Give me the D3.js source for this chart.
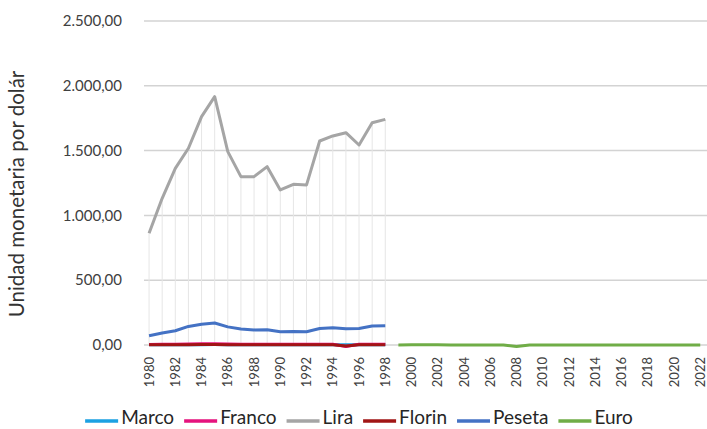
<!DOCTYPE html>
<html>
<head>
<meta charset="utf-8">
<script src="https://cdn.jsdelivr.net/npm/d3@7"></script>
<style>
  body { margin: 0; background: #fff; }
  text { font-family: Lato, "Open Sans", sans-serif; fill: #404040; }
</style>
</head>
<body>
<div id="chart"></div>
<script>
const years = d3.range(1980, 2023);
const yTicks = [0, 500, 1000, 1500, 2000, 2500];

// 1980 - 1998
const marco = [1.82, 2.26, 2.43, 2.55, 2.85, 2.94, 2.17, 1.80, 1.76, 1.88, 1.62, 1.66, 1.56, 1.65, 1.62, 1.43, 1.50, 1.73, 1.76];
const franco = [4.23, 5.43, 6.57, 7.62, 8.74, 8.99, 6.93, 6.01, 5.96, 6.38, 5.45, 5.64, 5.29, 5.66, 5.55, -12, 5.12, 5.84, 5.90];
const lira = [862, 1132, 1363, 1518, 1762, 1916, 1492, 1299, 1299, 1376, 1196, 1240, 1235, 1574, 1613, 1638, 1543, 1715, 1741];
const florin = [1.99, 2.50, 2.67, 2.85, 3.21, 3.32, 2.45, 2.03, 1.98, 2.12, 1.82, 1.87, 1.76, 1.86, 1.82, -8, 1.69, 1.95, 1.98];
const peseta = [71.7, 92.3, 110.0, 143.4, 160.8, 170.0, 140.0, 123.5, 116.5, 118.4, 101.9, 103.9, 102.4, 127.3, 134.0, 124.7, 126.7, 146.4, 149.4];
// 1999 - 2022
const euro = [0.94, 1.09, 1.12, 1.06, 0.89, 0.80, 0.80, 0.80, 0.73, -12, 0.72, 0.76, 0.72, 0.78, 0.75, 0.75, 0.90, 0.90, 0.89, 0.85, 0.89, 0.88, 0.85, 0.95];

const series = [
  { name: 'Marco', color: '#1ba1e2', start: 1980, values: marco },
  { name: 'Franco', color: '#e5127d', start: 1980, values: franco },
  { name: 'Lira', color: '#a5a5a5', start: 1980, values: lira },
  { name: 'Florin', color: '#a11515', start: 1980, values: florin },
  { name: 'Peseta', color: '#4472c4', start: 1980, values: peseta },
  { name: 'Euro', color: '#70ad47', start: 1999, values: euro }
];

const width = 707, height = 429;
const svg = d3.select('#chart').append('svg')
  .attr('width', width)
  .attr('height', height);

const x = d3.scaleBand()
  .domain(years)
  .range([142.5, 706.8]);

const y = d3.scaleLinear()
  .domain([0, 2500])
  .range([345, 21]);

const fmt = d3.formatLocale({ decimal: ',', thousands: '.', grouping: [3], currency: ['', ''] }).format(',.2f');

// gridlines
svg.append('g')
  .selectAll('line')
  .data(yTicks)
  .enter()
  .append('line')
  .attr('x1', 144)
  .attr('x2', width)
  .attr('y1', d => y(d))
  .attr('y2', d => y(d))
  .attr('stroke', '#d3d3d3')
  .attr('stroke-width', 1.5);

// y tick labels
svg.append('g')
  .selectAll('text')
  .data(yTicks)
  .enter()
  .append('text')
  .attr('x', 122)
  .attr('y', d => y(d))
  .attr('dy', '0.35em')
  .attr('text-anchor', 'end')
  .style('font-size', '15px')
  .text(d => fmt(d));

// drop lines (max of all series down to axis)
const dropData = years.map(yr => {
  const vals = series.map(s => s.values[yr - s.start]).filter(v => v !== undefined);
  return { yr, max: d3.max(vals) };
}).filter(d => d.max !== undefined);

svg.append('g')
  .selectAll('line')
  .data(dropData)
  .enter()
  .append('line')
  .attr('x1', d => x(d.yr) + x.bandwidth() / 2)
  .attr('x2', d => x(d.yr) + x.bandwidth() / 2)
  .attr('y1', d => y(d.max))
  .attr('y2', y(0))
  .attr('stroke', '#e6e6e6')
  .attr('stroke-width', 1);

// lines
const line = d3.line()
  .x(d => x(d.yr) + x.bandwidth() / 2)
  .y(d => y(d.v));

svg.append('g')
  .selectAll('path')
  .data(series)
  .enter()
  .append('path')
  .attr('fill', 'none')
  .attr('stroke', d => d.color)
  .attr('stroke-width', 3)
  .attr('stroke-linejoin', 'round')
  .attr('d', d => line(d.values.map((v, i) => ({ yr: d.start + i, v }))));

// x labels, every 2 years, rotated
svg.append('g')
  .selectAll('text')
  .data(years.filter(yr => yr % 2 === 0))
  .enter()
  .append('text')
  .attr('transform', d => `translate(${x(d) + x.bandwidth() / 2},357) rotate(-90)`)
  .attr('text-anchor', 'end')
  .attr('dy', '0.35em')
  .style('font-size', '13px')
  .text(d => d);

// y axis title
svg.append('text')
  .attr('transform', 'translate(17,194) rotate(-90)')
  .attr('text-anchor', 'middle')
  .attr('dy', '0.35em')
  .style('font-size', '20.5px')
  .style('fill', '#333')
  .text('Unidad monetaria por dolár');

// legend
const legend = svg.append('g');
let lx = 0;
series.forEach(s => {
  legend.append('line')
    .attr('x1', lx)
    .attr('x2', lx + 33)
    .attr('y1', 421)
    .attr('y2', 421)
    .attr('stroke', s.color)
    .attr('stroke-width', 3.5);
  const t = legend.append('text')
    .attr('x', lx + 36)
    .attr('y', 424)
    .style('font-size', '19px')
    .style('fill', '#262626')
    .text(s.name);
  lx += 36 + t.node().getComputedTextLength() + 10;
});
legend.attr('transform', `translate(${359 - (lx - 10) / 2},0)`);
</script>
</body>
</html>
